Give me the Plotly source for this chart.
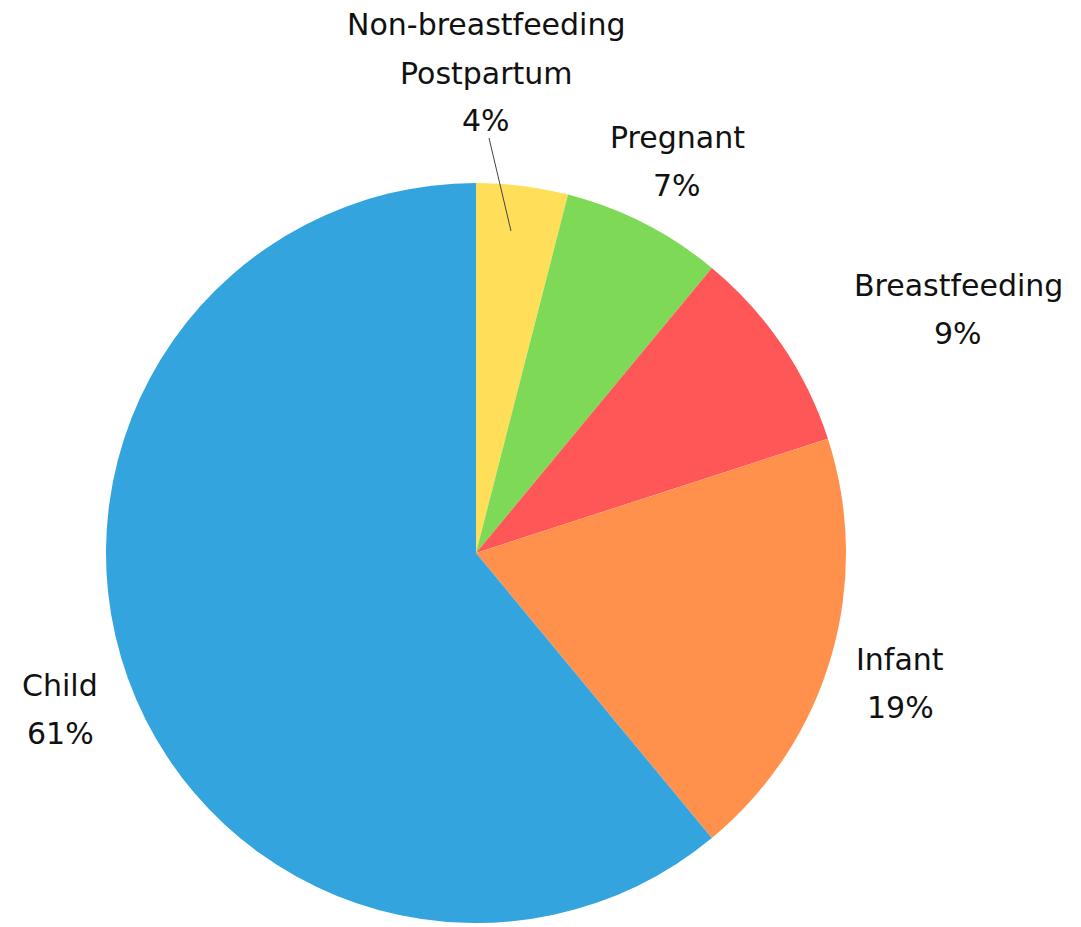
import plotly.graph_objects as go

categories = ["Non-breastfeeding<br>Postpartum", "Pregnant", "Breastfeeding", "Infant", "Child"]
values = [4, 7, 9, 19, 61]
colors = ["#FFDE59", "#7ED957", "#FF5757", "#FF914D", "#33A4DE"]

W, H = 1081, 927
OFF = 8  # page body margin offset
# label anchor positions (pixel coords of label centre of the first line)
label_px = [(486, 25), (677, 137), (958, 285), (900, 659), (60, 685)]
line_gap = 48

fig = go.Figure()
fig.add_trace(go.Pie(
    labels=categories,
    values=values,
    marker=dict(colors=colors, line=dict(width=0)),
    sort=False,
    direction="clockwise",
    rotation=0,
    textinfo="none",
    hoverinfo="label+percent",
    showlegend=False,
    domain=dict(x=[0, 936 / W], y=[12 / H, 752 / H]),
))

font = dict(family="DejaVu Sans, sans-serif", size=30, color="#111111")
total = sum(values)
for cat, v, (px, py) in zip(categories, values, label_px):
    lines = cat.split("<br>") + [f"{round(100 * v / total)}%"]
    for i, t in enumerate(lines):
        fig.add_annotation(
            x=(px - OFF) / W, y=1 - (py - OFF + i * line_gap) / H,
            xref="paper", yref="paper",
            text=t, showarrow=False, font=font,
            xanchor="center", yanchor="middle",
        )

# connector for the small slice
fig.add_shape(type="line", xref="paper", yref="paper",
              x0=(489 - OFF) / W, y0=1 - (138 - OFF) / H,
              x1=(511 - OFF) / W, y1=1 - (231 - OFF) / H,
              line=dict(color="#444444", width=1))

fig.update_layout(
    width=W, height=H,
    margin=dict(l=0, r=0, t=0, b=0),
    paper_bgcolor="white", plot_bgcolor="white",
)
fig.write_html("out.html")
